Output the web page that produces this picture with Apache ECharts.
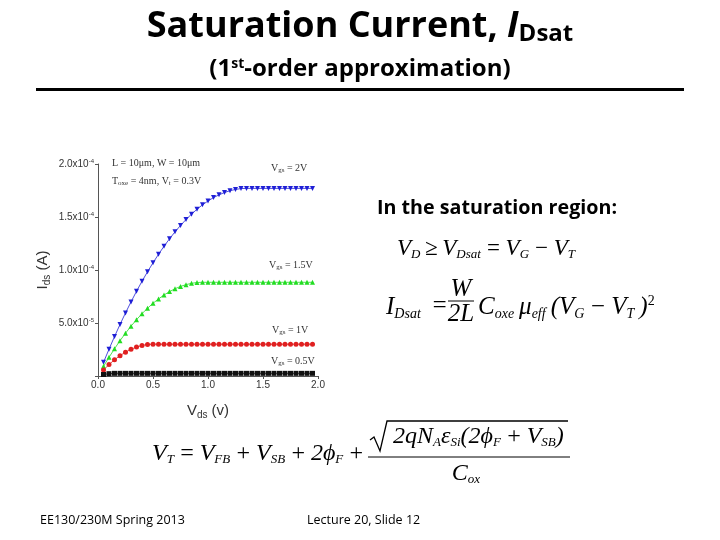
<!DOCTYPE html>
<html>
<head>
<meta charset="utf-8">
<script src="https://cdn.jsdelivr.net/npm/echarts@6/dist/echarts.min.js"></script>
<style>
  html, body { margin: 0; padding: 0; background: #fff; }
  #chart { width: 720px; height: 540px; }
</style>
</head>
<body>
<div id="chart"></div>
<script>
// Vds (V) sample points
const vds = [0.05, 0.10, 0.15, 0.20, 0.25, 0.30, 0.35, 0.40, 0.45, 0.50,
  0.55, 0.60, 0.65, 0.70, 0.75, 0.80, 0.85, 0.90, 0.95, 1.00,
  1.05, 1.10, 1.15, 1.20, 1.25, 1.30, 1.35, 1.40, 1.45, 1.50,
  1.55, 1.60, 1.65, 1.70, 1.75, 1.80, 1.85, 1.90, 1.95];

// Ids in units of 1e-4 A
const vgs2 = [0.129, 0.253, 0.372, 0.486, 0.595, 0.699, 0.799, 0.894, 0.983, 1.068,
  1.148, 1.224, 1.294, 1.360, 1.420, 1.476, 1.527, 1.573, 1.615, 1.651,
  1.683, 1.709, 1.731, 1.748, 1.760, 1.768, 1.770, 1.770, 1.770, 1.770,
  1.770, 1.770, 1.770, 1.770, 1.770, 1.770, 1.770, 1.770, 1.770];
const vgs15 = [0.091, 0.176, 0.257, 0.333, 0.404, 0.470, 0.531, 0.588, 0.639, 0.686,
  0.727, 0.764, 0.796, 0.823, 0.845, 0.862, 0.874, 0.882, 0.884, 0.884,
  0.884, 0.884, 0.884, 0.884, 0.884, 0.884, 0.884, 0.884, 0.884, 0.884,
  0.884, 0.884, 0.884, 0.884, 0.884, 0.884, 0.884, 0.884, 0.884];
const vgs1 = [0.057, 0.108, 0.153, 0.192, 0.225, 0.252, 0.273, 0.288, 0.297, 0.300,
  0.300, 0.300, 0.300, 0.300, 0.300, 0.300, 0.300, 0.300, 0.300, 0.300,
  0.300, 0.300, 0.300, 0.300, 0.300, 0.300, 0.300, 0.300, 0.300, 0.300,
  0.300, 0.300, 0.300, 0.300, 0.300, 0.300, 0.300, 0.300, 0.300];
const vgs05 = [0.014, 0.022, 0.025, 0.025, 0.025, 0.025, 0.025, 0.025, 0.025, 0.025,
  0.025, 0.025, 0.025, 0.025, 0.025, 0.025, 0.025, 0.025, 0.025, 0.025,
  0.025, 0.025, 0.025, 0.025, 0.025, 0.025, 0.025, 0.025, 0.025, 0.025,
  0.025, 0.025, 0.025, 0.025, 0.025, 0.025, 0.025, 0.025, 0.025];

const yTickLabels = ['', '5.0x10{sup|-5}', '1.0x10{sup|-4}', '1.5x10{sup|-4}', '2.0x10{sup|-4}'];
const xTickLabels = ['0.0', '0.5', '1.0', '1.5', '2.0'];

const pairs = (ys) => vds.map((x, i) => [x, ys[i]]);

const chart = echarts.init(document.getElementById('chart'));

const axisFont = { fontFamily: 'Liberation Sans, Arial', fontSize: 10, color: '#333' };
const serif = 'Liberation Serif, Times New Roman';
const calibri = 'Open Sans, Noto Sans';
const sp = '\u2009';
const mathRich = (size) => ({
  s: { fontFamily: serif, fontStyle: 'italic', fontSize: Math.round(size * 0.55), verticalAlign: 'bottom', padding: [Math.round(size * 0.5), 0, 0, 0] },
  p: { fontFamily: serif, fontSize: Math.round(size * 0.55), verticalAlign: 'top', padding: [0, 0, Math.round(size * 0.45), 0] }
});

function mkSeries(name, data, color, symbol, rotate) {
  return {
    name: name,
    type: 'line',
    data: pairs(data),
    symbol: symbol,
    symbolRotate: rotate || 0,
    symbolSize: 5,
    showAllSymbol: true,
    lineStyle: { color: color, width: 0.8 },
    itemStyle: { color: color },
    animation: false
  };
}

const smallRich = {
  sub: { fontFamily: serif, fontSize: 7, color: '#333', verticalAlign: 'bottom', padding: [4, 0, 0, 0] }
};

function mathText(x, y, text, size, extra) {
  return { type: 'text', x: x, y: y, style: Object.assign({
    text: text, font: 'italic ' + size + 'px ' + serif, fill: '#000', rich: mathRich(size) }, extra || {}) };
}

chart.setOption({
  backgroundColor: '#fff',
  animation: false,
  grid: { left: 98, right: 402, top: 164, bottom: 164 },
  xAxis: {
    type: 'value', min: 0, max: 2, interval: 0.5,
    name: 'V{sub|ds} (v)', nameLocation: 'middle', nameGap: 26,
    nameTextStyle: { fontFamily: 'Liberation Sans, Arial', fontSize: 15, color: '#333',
      rich: { sub: { fontSize: 10, color: '#333', verticalAlign: 'bottom', padding: [8, 0, 0, 0] } } },
    axisLine: { lineStyle: { color: '#555', width: 1 } },
    axisTick: { length: 3, lineStyle: { color: '#555' } },
    splitLine: { show: false },
    axisLabel: Object.assign({ margin: 4, formatter: (v) => xTickLabels[Math.round(v / 0.5)] }, axisFont)
  },
  yAxis: {
    type: 'value', min: 0, max: 2, interval: 0.5,
    name: 'I{sub|ds} (A)', nameLocation: 'middle', nameGap: 46, nameRotate: 90,
    nameTextStyle: { fontFamily: 'Liberation Sans, Arial', fontSize: 15, color: '#333',
      rich: { sub: { fontSize: 10, color: '#333', verticalAlign: 'bottom', padding: [8, 0, 0, 0] } } },
    axisLine: { show: true, lineStyle: { color: '#555', width: 1 } },
    axisTick: { show: true, length: 3, lineStyle: { color: '#555' } },
    splitLine: { show: false },
    axisLabel: Object.assign({
      margin: 4,
      formatter: (v) => yTickLabels[Math.round(v / 0.5)],
      rich: { sup: { fontSize: 6, color: '#333', verticalAlign: 'top', padding: [0, 0, 5, 0] } }
    }, axisFont)
  },
  series: [
    mkSeries('Vgs = 2V', vgs2, '#1f1fd6', 'triangle', 180),
    mkSeries('Vgs = 1.5V', vgs15, '#22dd22', 'triangle', 0),
    mkSeries('Vgs = 1V', vgs1, '#e02020', 'circle', 0),
    mkSeries('Vgs = 0.5V', vgs05, '#111111', 'rect', 0)
  ],
  graphic: [
    // slide title
    { type: 'text', left: 'center', top: 9, style: {
      text: 'Saturation Current, {i|I}{s|Dsat}', fill: '#000',
      font: 'bold 36px ' + calibri,
      rich: { i: { fontStyle: 'italic', fontWeight: 'bold', fontSize: 36, fontFamily: calibri },
              s: { fontWeight: 'bold', fontSize: 24, fontFamily: calibri, verticalAlign: 'bottom', padding: [15, 0, 0, 0] } }
    } },
    { type: 'text', left: 'center', top: 57, style: {
      text: '(1{sup|st}-order approximation)', fill: '#000',
      font: 'bold 24px ' + calibri,
      rich: { sup: { fontWeight: 'bold', fontSize: 14, fontFamily: calibri, verticalAlign: 'top', padding: [0, 0, 9, 0] } }
    } },
    { type: 'rect', shape: { x: 36, y: 88, width: 648, height: 3 }, style: { fill: '#000' } },

    // in-plot annotations
    { type: 'text', x: 112, y: 158, style: { text: 'L = 10\u03bcm, W = 10\u03bcm', font: '10px ' + serif, fill: '#333' } },
    { type: 'text', x: 112, y: 176, style: { text: 'T{sub|oxe} = 4nm, V{sub|t} = 0.3V', font: '10px ' + serif, fill: '#333', rich: smallRich } },
    { type: 'text', x: 271, y: 163, style: { text: 'V{sub|gs} = 2V', font: '10px ' + serif, fill: '#333', rich: smallRich } },
    { type: 'text', x: 269, y: 260, style: { text: 'V{sub|gs} = 1.5V', font: '10px ' + serif, fill: '#333', rich: smallRich } },
    { type: 'text', x: 272, y: 325, style: { text: 'V{sub|gs} = 1V', font: '10px ' + serif, fill: '#333', rich: smallRich } },
    { type: 'text', x: 271, y: 356, style: { text: 'V{sub|gs} = 0.5V', font: '10px ' + serif, fill: '#333', rich: smallRich } },

    // right side text
    { type: 'text', x: 377, y: 198, style: { text: 'In the saturation region:', font: 'bold 19.7px ' + calibri, fill: '#000' } },
    mathText(397, 236, 'V{s|D}' + sp + '\u2265' + sp + 'V{s|Dsat}' + sp + '=' + sp + 'V{s|G}' + sp + '\u2212' + sp + 'V{s|T}', 23),
    mathText(386, 294, 'I{s|Dsat}', 25),
    mathText(431, 294, '=', 25),
    { type: 'text', x: 461, y: 277, style: { text: 'W', font: 'italic 25px ' + serif, fill: '#000', align: 'center' } },
    { type: 'line', shape: { x1: 448, y1: 301, x2: 474, y2: 301 }, style: { stroke: '#000', lineWidth: 1 } },
    { type: 'text', x: 461, y: 302, style: { text: '2L', font: 'italic 25px ' + serif, fill: '#000', align: 'center' } },
    mathText(478, 294, 'C{s|oxe}' + sp + '\u03bc{s|eff}' + sp + '(V{s|G}' + sp + '\u2212' + sp + 'V{s|T}' + sp + '){p|2}', 25),

    // threshold voltage equation
    mathText(152, 441, 'V{s|T}' + sp + '=' + sp + 'V{s|FB}' + sp + '+' + sp + 'V{s|SB}' + sp + '+' + sp + '2\u03d5{s|F}' + sp + '+', 24),
    { type: 'polyline', shape: { points: [[370, 440], [374, 437], [380, 451], [387, 421], [568, 421]] }, style: { stroke: '#000', lineWidth: 1.3, fill: null } },
    mathText(393, 424, '2qN{s|A}\u03b5{s|Si}(2\u03d5{s|F}' + sp + '+' + sp + 'V{s|SB})', 24),
    { type: 'line', shape: { x1: 368, y1: 457, x2: 570, y2: 457 }, style: { stroke: '#000', lineWidth: 1 } },
    mathText(466, 461, 'C{s|ox}', 24, { align: 'center' }),

    // footer
    { type: 'text', x: 40, y: 514, style: { text: 'EE130/230M Spring 2013', font: '12.5px ' + calibri, fill: '#000' } },
    { type: 'text', x: 307, y: 514, style: { text: 'Lecture 20, Slide 12', font: '12.5px ' + calibri, fill: '#000' } }
  ]
});
</script>
</body>
</html>
